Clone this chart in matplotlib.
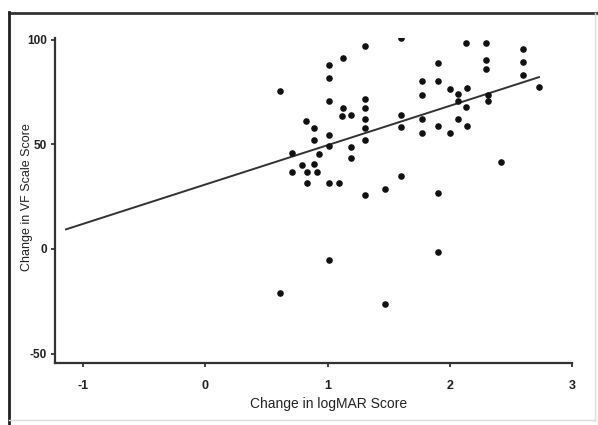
import numpy as np
import matplotlib
matplotlib.use("Agg")
import matplotlib.pyplot as plt
from matplotlib.lines import Line2D

# change in logMAR score vs change in VF scale score
logmar = [0.61, 1.31, 1.60, 2.13, 2.30, 2.60, 1.13, 1.01, 1.90, 2.30,
          2.30, 2.60, 2.60, 1.01, 1.77, 1.90, 2.00, 2.14, 1.77, 2.07,
          2.31, 2.73, 1.01, 1.31, 2.07, 2.31, 2.13, 1.13, 1.31, 1.12,
          1.19, 1.60, 1.31, 1.77, 2.07, 0.82, 0.89, 1.31, 1.60, 1.90,
          2.14, 1.01, 1.77, 2.00, 0.89, 1.31, 1.01, 1.19, 0.71, 0.93,
          1.19, 0.79, 0.89, 0.71, 0.83, 0.91, 2.42, 1.60, 0.83, 1.01,
          1.09, 1.47, 1.31, 1.90, 1.01, 1.90, 0.61, 1.47]
vf_score = [75.7, 97.3, 100.8, 98.7, 98.7, 95.8, 91.5, 88.0, 89.0, 90.3,
            86.0, 89.6, 83.3, 81.8, 80.2, 80.4, 76.6, 76.9, 73.8, 74.0,
            73.7, 77.7, 70.7, 71.9, 70.7, 71.0, 68.1, 67.3, 67.5, 63.8,
            64.1, 64.1, 62.2, 62.3, 62.3, 61.2, 58.0, 58.0, 58.5, 58.9,
            58.9, 54.7, 55.5, 55.6, 52.2, 52.2, 49.3, 48.9, 45.8, 45.5,
            43.4, 40.2, 40.7, 37.0, 36.7, 36.7, 41.5, 34.9, 31.4, 31.4,
            31.4, 28.9, 25.8, 26.7, -5.3, -1.3, -20.9, -26.4]

# regression line as drawn
fit_x = [-1.14, 2.73]
fit_y = [9.4, 82.2]

x_ticks = [-1, 0, 1, 2, 3]
y_ticks = [100, 50, 0, -50]

plt.rcParams['font.family'] = ['Liberation Sans', 'DejaVu Sans']

fig = plt.figure(figsize=(5.98, 4.25), dpi=100)
ax = fig.add_axes([0.092, 0.146, 0.8645, 0.765])

ax.plot(fit_x, fit_y, color='#333333', lw=1.4, zorder=2)
ax.scatter(logmar, vf_score, s=14, color='#111111', zorder=3)

ax.set_xlim(-1.23, 3.0)
ax.set_ylim(-54.5, 101)
ax.set_xticks(x_ticks)
ax.set_yticks(y_ticks)
ax.set_xticklabels([str(t) for t in x_ticks], fontsize=9, fontweight='bold', color='#222222')
ax.set_yticklabels([str(t) for t in y_ticks], fontsize=8.5, fontweight='bold', color='#222222')
ax.tick_params(axis='x', direction='out', length=3, width=1.2, colors='#222222', pad=9)
ax.tick_params(axis='y', direction='out', length=3, width=1.2, colors='#222222', pad=3)

for side in ['top', 'right']:
    ax.spines[side].set_visible(False)
for side in ['left', 'bottom']:
    ax.spines[side].set_linewidth(1.6)
    ax.spines[side].set_color('#333333')

ax.set_xlabel("Change in logMAR Score", fontsize=10, color='#222222')
ax.xaxis.set_label_coords(0.53, -0.105)
ax.set_ylabel("Change in VF Scale Score", fontsize=9, color='#222222')
ax.yaxis.set_label_coords(-0.043, 0.51)

# scanned page frame
fig.add_artist(Line2D([0.015, 1.0], [0.97, 0.97], transform=fig.transFigure, color='#333333', lw=2))
fig.add_artist(Line2D([0.015, 0.015], [0.0, 0.972], transform=fig.transFigure, color='#222222', lw=2))
fig.add_artist(Line2D([0.995, 0.995], [0.01, 0.97], transform=fig.transFigure, color='#dddddd', lw=1))
fig.add_artist(Line2D([0.015, 0.995], [0.012, 0.012], transform=fig.transFigure, color='#dddddd', lw=1))

plt.savefig("out.png", dpi=100)
